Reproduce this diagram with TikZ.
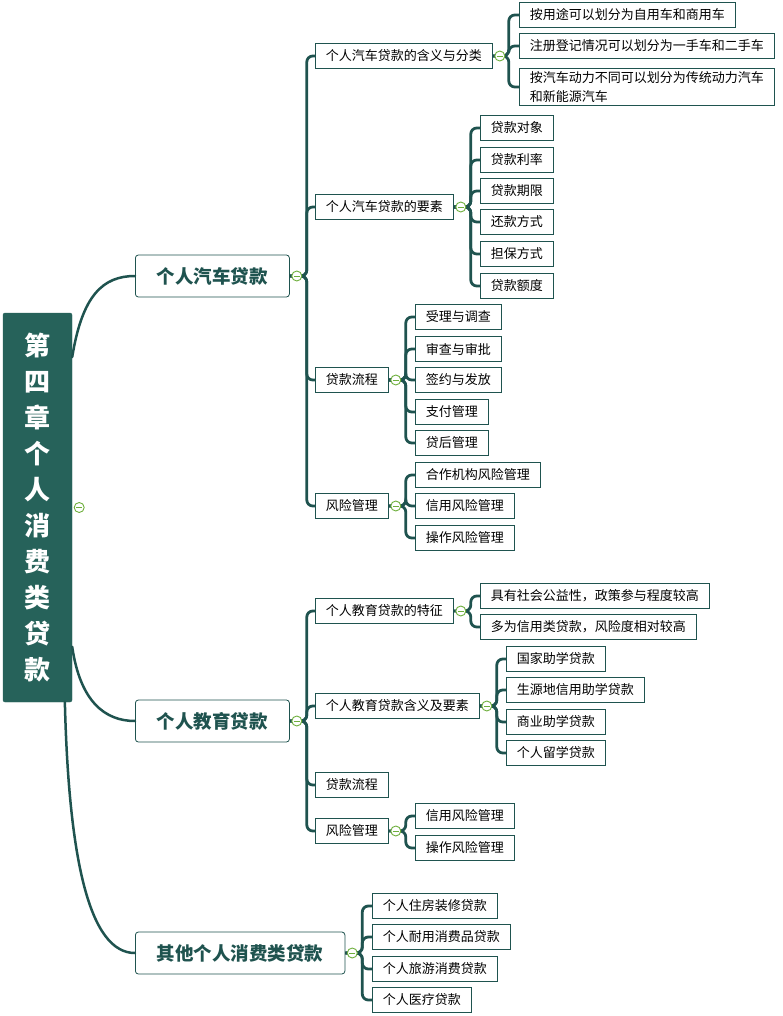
\documentclass[tikz,border=0pt]{standalone}
\usepackage{fontspec}
\setmainfont{Noto Sans CJK SC}
\begin{document}
\begin{tikzpicture}[x=1pt, y=-1pt,
    root/.style={fill=rootteal, draw=rootteal, rounded corners=2, minimum width=69, minimum height=389, text=white, align=center, font=\fontsize{26}{36}\selectfont\bfseries},
    topic/.style={draw=lineteal, fill=white, line width=0.8, rounded corners=3, anchor=west, minimum height=42, inner xsep=21.5, text=lineteal, font=\fontsize{18.5}{20}\selectfont\bfseries},
    sub/.style={draw=lineteal, fill=white, line width=0.8, anchor=west, minimum height=25, inner xsep=10.5, inner ysep=3, align=left, font=\fontsize{13}{19}\selectfont},
    branch/.style={draw=lineteal, line width=2.8, rounded corners=6},
    stem/.style={draw=lineteal, line width=2.5, line cap=round},
    fold/.style={circle, draw=foldgreen, fill=white, line width=0.9, inner sep=0, minimum size=10,
      path picture={\draw[foldgreen, line width=0.9] ([xshift=-3]path picture bounding box.center) -- ([xshift=3]path picture bounding box.center);}},
  ]

\definecolor{lineteal}{RGB}{31,83,79}
\definecolor{rootteal}{RGB}{38,98,90}
\definecolor{foldgreen}{RGB}{110,175,60}

\useasboundingbox (0,0) rectangle (783,1016);

% centre
\node[root] (root) at (37.5,507.5) {第\\四\\章\\个\\人\\消\\费\\类\\贷\\款};

% main topics
\node[topic] (car) at (135,276) {个人汽车贷款};
\node[topic] (edu) at (135,721) {个人教育贷款};
\node[topic] (other) at (135,953) {其他个人消费类贷款};

\draw[stem] (root.77) .. controls +(10,-62) and +(-32,0) .. (car.west);
\draw[stem] (root.-76) .. controls +(8,55) and +(-30,0) .. (edu.west);
\draw[stem] (root.-82.5) .. controls +(4,160) and +(-45,0) .. (other.west);

% car loan
\node[sub] (carA) at (315,56) {个人汽车贷款的含义与分类};
\node[sub] (carB) at (315,207) {个人汽车贷款的要素};
\node[sub] (carC) at (315,380) {贷款流程};
\node[sub] (carD) at (315,506) {风险管理};

\node[sub] (carA1) at (519,15) {按用途可以划分为自用车和商用车};
\node[sub] (carA2) at (519,46) {注册登记情况可以划分为一手车和二手车};
\node[sub] (carA3) at (519,87) {按汽车动力不同可以划分为传统动力汽车\\和新能源汽车};

\node[sub] (carB1) at (480,128) {贷款对象};
\node[sub] (carB2) at (480,160) {贷款利率};
\node[sub] (carB3) at (480,191) {贷款期限};
\node[sub] (carB4) at (480,222) {还款方式};
\node[sub] (carB5) at (480,254) {担保方式};
\node[sub] (carB6) at (480,286) {贷款额度};

\node[sub] (carC1) at (415,317) {受理与调查};
\node[sub] (carC2) at (415,349) {审查与审批};
\node[sub] (carC3) at (415,380) {签约与发放};
\node[sub] (carC4) at (415,412) {支付管理};
\node[sub] (carC5) at (415,443) {贷后管理};

\node[sub] (carD1) at (415,475) {合作机构风险管理};
\node[sub] (carD2) at (415,506) {信用风险管理};
\node[sub] (carD3) at (415,538) {操作风险管理};

% education loan
\node[sub] (eduA) at (315,611) {个人教育贷款的特征};
\node[sub] (eduB) at (315,706) {个人教育贷款含义及要素};
\node[sub] (eduC) at (315,785) {贷款流程};
\node[sub] (eduD) at (315,831) {风险管理};

\node[sub] (eduA1) at (480,596) {具有社会公益性，政策参与程度较高};
\node[sub] (eduA2) at (480,627) {多为信用类贷款，风险度相对较高};

\node[sub] (eduB1) at (506,659) {国家助学贷款};
\node[sub] (eduB2) at (506,690) {生源地信用助学贷款};
\node[sub] (eduB3) at (506,722) {商业助学贷款};
\node[sub] (eduB4) at (506,753) {个人留学贷款};

\node[sub] (eduD1) at (415,816) {信用风险管理};
\node[sub] (eduD2) at (415,848) {操作风险管理};

% other loans
\node[sub] (other1) at (372,906) {个人住房装修贷款};
\node[sub] (other2) at (372,937) {个人耐用消费品贷款};
\node[sub] (other3) at (372,969) {个人旅游消费贷款};
\node[sub] (other4) at (372,1000) {个人医疗贷款};

% branches
\foreach \c in {carA,carB,carC,carD}
    \draw[branch] (car.east) -- ++(17,0) |- (\c.west);
\foreach \c in {carA1,carA2,carA3}
    \draw[branch] (carA.east) -- ++(16,0) |- (\c.west);
\foreach \c in {carB1,carB2,carB3,carB4,carB5,carB6}
    \draw[branch] (carB.east) -- ++(17,0) |- (\c.west);
\foreach \c in {carC1,carC2,carC3,carC4,carC5}
    \draw[branch] (carC.east) -- ++(17,0) |- (\c.west);
\foreach \c in {carD1,carD2,carD3}
    \draw[branch] (carD.east) -- ++(17,0) |- (\c.west);
\foreach \c in {eduA,eduB,eduC,eduD}
    \draw[branch] (edu.east) -- ++(17,0) |- (\c.west);
\foreach \c in {eduA1,eduA2}
    \draw[branch] (eduA.east) -- ++(17,0) |- (\c.west);
\foreach \c in {eduB1,eduB2,eduB3,eduB4}
    \draw[branch] (eduB.east) -- ++(17,0) |- (\c.west);
\foreach \c in {eduD1,eduD2}
    \draw[branch] (eduD.east) -- ++(17,0) |- (\c.west);
\foreach \c in {other1,other2,other3,other4}
    \draw[branch] (other.east) -- ++(17,0) |- (\c.west);

% fold markers
\node[fold] (foldroot) at ([xshift=7]root.east) {};
\foreach \p in {car,edu,other,carA,carB,carC,carD,eduA,eduB,eduD}
    \node[fold] (fold\p) at ([xshift=7]\p.east) {};

\end{tikzpicture}
\end{document}
